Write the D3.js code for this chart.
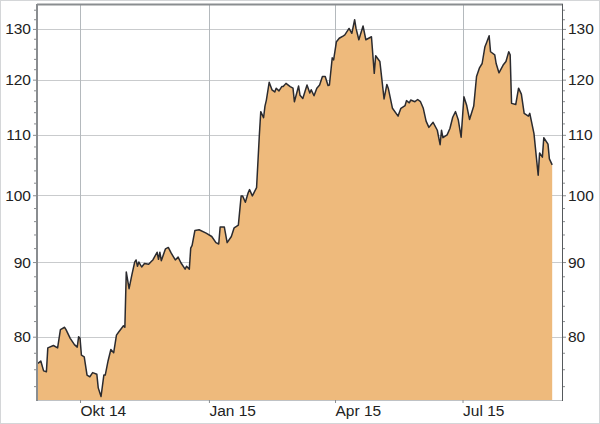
<!DOCTYPE html>
<html>
<head>
<meta charset="utf-8">
<script src="https://cdn.jsdelivr.net/npm/d3@7"></script>
<style>
  html, body { margin: 0; padding: 0; background: #fff; }
  svg { display: block; }
  text { font-family: "Liberation Sans", Arial, sans-serif; }
</style>
</head>
<body>
<svg id="chart" width="600" height="424"></svg>
<script>
// ---- data ----
const dates = [
  "2014-09-01","2014-09-03","2014-09-05","2014-09-07","2014-09-08","2014-09-12","2014-09-15","2014-09-17","2014-09-20","2014-09-21",
  "2014-09-24","2014-09-27","2014-09-29","2014-09-30","2014-10-01","2014-10-02","2014-10-04","2014-10-06","2014-10-08","2014-10-10",
  "2014-10-13","2014-10-14","2014-10-16","2014-10-18","2014-10-19","2014-10-21","2014-10-23","2014-10-25","2014-10-27","2014-10-29",
  "2014-11-01","2014-11-02","2014-11-03","2014-11-05","2014-11-07","2014-11-09","2014-11-10","2014-11-11","2014-11-12","2014-11-14",
  "2014-11-16","2014-11-19","2014-11-21","2014-11-22","2014-11-25","2014-11-26","2014-11-27","2014-11-28","2014-12-01","2014-12-03",
  "2014-12-05","2014-12-08","2014-12-10","2014-12-12","2014-12-15","2014-12-16","2014-12-18","2014-12-19","2014-12-20","2014-12-22",
  "2014-12-25","2014-12-30","2015-01-03","2015-01-06","2015-01-08","2015-01-09","2015-01-12","2015-01-14","2015-01-17","2015-01-19",
  "2015-01-22","2015-01-24","2015-01-25","2015-01-27","2015-01-29","2015-01-30","2015-02-01","2015-02-04","2015-02-06","2015-02-07",
  "2015-02-09","2015-02-10","2015-02-11","2015-02-13","2015-02-15","2015-02-17","2015-02-18","2015-02-20","2015-02-22","2015-02-23",
  "2015-02-25","2015-02-28","2015-03-02","2015-03-03","2015-03-06","2015-03-07","2015-03-09","2015-03-12","2015-03-14","2015-03-15",
  "2015-03-17","2015-03-19","2015-03-21","2015-03-23","2015-03-25","2015-03-27","2015-03-28","2015-03-30","2015-03-31","2015-04-02",
  "2015-04-04","2015-04-07","2015-04-08","2015-04-11","2015-04-13","2015-04-15","2015-04-16","2015-04-18","2015-04-21","2015-04-23",
  "2015-04-27","2015-04-29","2015-04-30","2015-05-03","2015-05-06","2015-05-08","2015-05-09","2015-05-12","2015-05-16","2015-05-18",
  "2015-05-21","2015-05-22","2015-05-24","2015-05-25","2015-05-28","2015-05-30","2015-06-01","2015-06-03","2015-06-05","2015-06-07",
  "2015-06-10","2015-06-13","2015-06-15","2015-06-16","2015-06-17","2015-06-20","2015-06-22","2015-06-24","2015-06-26","2015-06-28",
  "2015-06-30","2015-07-02","2015-07-04","2015-07-06","2015-07-09","2015-07-11","2015-07-13","2015-07-15","2015-07-17","2015-07-18",
  "2015-07-20","2015-07-21","2015-07-24","2015-07-25","2015-07-27","2015-07-30","2015-08-01","2015-08-03","2015-08-04","2015-08-05",
  "2015-08-08","2015-08-10","2015-08-12","2015-08-14","2015-08-17","2015-08-18","2015-08-21","2015-08-24","2015-08-25","2015-08-27",
  "2015-08-28","2015-08-31","2015-09-01","2015-09-03"
];
const values = [
  76.7,77.0,75.8,75.7,78.6,78.9,78.6,80.9,81.2,80.9,
  79.8,79.0,78.7,80.0,79.8,77.7,77.5,75.3,75.1,75.6,
  75.4,73.8,72.8,75.3,75.3,77.0,78.4,78.0,80.2,80.7,
  81.4,81.2,88.6,86.3,88.2,90.0,90.3,89.4,90.0,89.3,
  89.8,89.7,90.1,90.3,91.4,90.4,91.4,90.2,91.9,92.1,
  91.3,90.3,90.7,89.9,89.0,89.4,89.0,92.0,92.4,94.6,
  94.7,94.2,93.7,92.8,92.6,95.1,95.1,92.8,93.7,95.0,
  95.4,99.9,99.9,98.9,100.4,100.9,99.9,101.2,110.0,114.1,
  113.0,115.1,116.2,119.5,118.1,117.7,118.4,117.9,118.7,118.7,
  119.3,118.7,118.4,115.9,118.8,117.1,116.5,119.0,117.5,118.1,
  117.0,118.4,119.0,120.6,120.6,118.9,119.0,124.2,123.8,127.4,
  128.1,128.6,128.8,130.1,129.1,131.9,130.1,127.8,130.6,127.8,
  128.4,121.2,124.6,123.5,116.4,119.1,118.4,114.7,113.3,114.7,
  115.2,116.1,115.7,116.2,115.9,116.3,115.9,114.7,112.4,111.3,
  112.2,110.8,108.3,110.8,109.5,110.0,111.1,113.1,114.1,112.6,
  109.6,116.8,115.2,112.7,115.1,120.6,122.2,123.1,126.4,127.1,
  128.6,125.4,124.8,123.1,121.3,122.8,123.5,125.4,124.8,115.6,
  115.4,118.4,117.3,113.8,113.3,113.8,110.2,103.2,106.9,106.2,
  109.5,108.4,105.9,104.9
];
const yTicks = [80, 90, 100, 110, 120, 130];
const yMinorTicks = [74, 76, 78, 82, 84, 86, 88, 92, 94, 96, 98, 102, 104, 106, 108, 112, 114, 116, 118, 122, 124, 126, 128, 132, 134];
const xTickDates = ["2014-10-01", "2015-01-01", "2015-04-01", "2015-07-01"];
const xTickLabels = ["Okt 14", "Jan 15", "Apr 15", "Jul 15"];
const xDomain = ["2014-09-01", "2015-09-10"];
const yDomain = [72.4, 135];

// ---- drawing ----
const parse = d3.timeParse("%Y-%m-%d");
const data = dates.map((d, i) => ({ date: parse(d), value: values[i] }));

const L = 38, R = 562, T = 5, B = 400;
const svg = d3.select("#chart");

const x = d3.scaleTime().domain(xDomain.map(parse)).range([L, R]);
const y = d3.scaleLog().domain(yDomain).range([B, T]);

// outer border
svg.append("rect").attr("x", 0.5).attr("y", 0.5).attr("width", 599).attr("height", 423)
  .attr("fill", "#fff").attr("stroke", "#d4d6d8").attr("stroke-width", 1);

// horizontal grid
svg.append("g").selectAll("line").data(yTicks).join("line")
  .attr("x1", L).attr("x2", R)
  .attr("y1", d => Math.round(y(d)) + 0.5).attr("y2", d => Math.round(y(d)) + 0.5)
  .attr("stroke", "#c9cbcd").attr("stroke-width", 1);

// vertical grid
svg.append("g").selectAll("line").data(xTickDates).join("line")
  .attr("x1", d => Math.round(x(parse(d))) + 0.5).attr("x2", d => Math.round(x(parse(d))) + 0.5)
  .attr("y1", T).attr("y2", B)
  .attr("stroke", "#b4b9bd").attr("stroke-width", 1);

// area
const area = d3.area().x(d => x(d.date)).y0(B).y1(d => y(d.value)).curve(d3.curveLinear);
svg.append("path").datum(data).attr("d", area).attr("fill", "#eeba7c");

const line = d3.line().x(d => x(d.date)).y(d => y(d.value));
svg.append("path").datum(data).attr("d", line)
  .attr("fill", "none").attr("stroke", "#2b2b2f").attr("stroke-width", 1.5)
  .attr("stroke-linejoin", "round");

// frame
svg.append("line").attr("x1", L).attr("x2", R).attr("y1", B + 0.5).attr("y2", B + 0.5)
  .attr("stroke", "#bfc2c5").attr("stroke-width", 1);
svg.append("line").attr("x1", L - 1).attr("x2", R + 1).attr("y1", T - 0.5).attr("y2", T - 0.5)
  .attr("stroke", "#8a8d90").attr("stroke-width", 2);
svg.append("line").attr("x1", L - 1).attr("x2", L - 1).attr("y1", T - 1).attr("y2", B + 1)
  .attr("stroke", "#8a8d90").attr("stroke-width", 2);
svg.append("line").attr("x1", R + 0.5).attr("x2", R + 0.5).attr("y1", T - 1).attr("y2", B + 1)
  .attr("stroke", "#55595c").attr("stroke-width", 1);

// y axes (left / right)
function styleAxis(g) {
  g.select(".domain").remove();
  g.selectAll(".tick line").attr("stroke", "#8a8d90");
  g.selectAll(".tick text").attr("fill", "#222").attr("font-size", "15.5px")
    .attr("font-family", "'Liberation Sans', Arial, sans-serif");
}
svg.append("g").attr("transform", `translate(${L - 2},0)`)
  .call(d3.axisLeft(y).tickValues(yMinorTicks).tickSize(2).tickFormat(""))
  .call(styleAxis);
svg.append("g").attr("transform", `translate(${L - 2},0)`)
  .call(d3.axisLeft(y).tickValues(yTicks).tickSize(3).tickPadding(2).tickFormat(d3.format("d")))
  .call(styleAxis);
svg.append("g").attr("transform", `translate(${R + 1},0)`)
  .call(d3.axisRight(y).tickValues(yMinorTicks).tickSize(2).tickFormat(""))
  .call(styleAxis);
svg.append("g").attr("transform", `translate(${R + 1},0)`)
  .call(d3.axisRight(y).tickValues(yTicks).tickSize(3).tickPadding(2).tickFormat(d3.format("d")))
  .call(styleAxis);

// x axis
const xg = svg.append("g").attr("transform", `translate(0,${B})`)
  .call(d3.axisBottom(x).tickValues(xTickDates.map(parse)).tickSize(3)
    .tickFormat((d, i) => xTickLabels[i]));
xg.select(".domain").remove();
xg.selectAll(".tick line").attr("stroke", "#8a8d90");
xg.selectAll(".tick text").attr("fill", "#222").attr("font-size", "15.5px")
  .attr("text-anchor", "start").attr("dy", 0).attr("y", 16)
  .attr("font-family", "'Liberation Sans', Arial, sans-serif");
</script>
</body>
</html>
